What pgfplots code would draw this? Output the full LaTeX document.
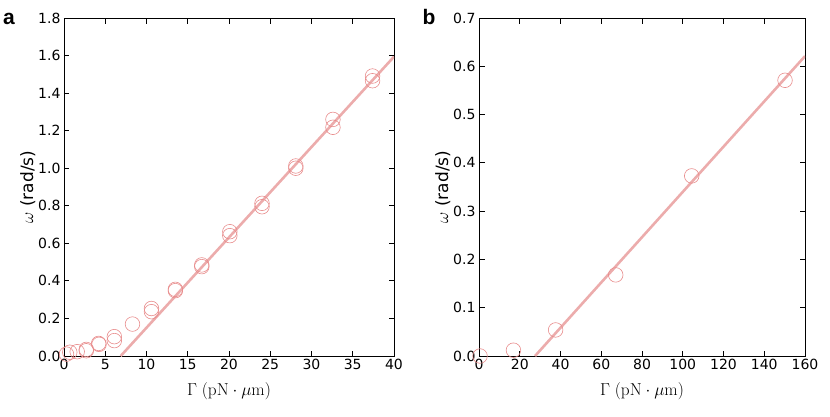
\documentclass[border=0pt]{standalone}
\usepackage{pgfplots}
\pgfplotsset{compat=1.18}
\usepackage[no-math]{fontspec}
\setmainfont{DejaVu Sans}
\newfontfamily\boldsans{Liberation Sans}
\definecolor{linec}{RGB}{236,172,172}
\definecolor{markc}{RGB}{232,140,140}
\pgfplotsset{
  myax/.style={
    scale only axis, height=338pt,
    axis line style={line width=0.9pt},
    tick style={line width=0.9pt, black},
    major tick length=5.5pt,
    tick align=inside,
    xtick pos=both, ytick pos=both,
    /pgf/number format/assume math mode=true,
    /pgf/number format/fixed,
    /pgf/number format/fixed zerofill,
    ticklabel style={font=\fontsize{14}{16}\selectfont},
    label style={font=\fontsize{17}{19}\selectfont},
    ymin=0,
    xlabel={$\Gamma\;(\mathrm{pN}\cdot\mu\mathrm{m})$},
    ylabel={$\omega$ (rad/s)},
    xlabel style={yshift=-6pt},
    ylabel style={yshift=-4pt},
    clip mode=individual,
  },
  mk/.style={only marks, mark=o, mark size=7.3pt, mark options={draw=markc, line width=0.6pt}},
  ln/.style={no marks, draw=linec, line width=2.6pt},
}
\begin{document}
\begin{tikzpicture}
\useasboundingbox (-64pt,-60pt) rectangle (766pt,356pt);
\begin{axis}[myax, width=330pt, at={(0pt,0pt)},
  xmin=0, xmax=40, ymax=1.8,
  xtick={0,5,...,40}, ytick={0,0.2,...,1.8},
  yticklabel style={/pgf/number format/precision=1},
  xticklabel={\pgfmathprintnumber[fixed,precision=0]{\tick}}]
\addplot[ln] coordinates {(6.87,0) (40,1.594)};
\addplot[mk] coordinates {
(0.3,0.01) (0.7,0.02) (1.6,0.023) (2.7,0.035) (2.7,0.028)
(4.2,0.067) (4.25,0.062) (6.1,0.103) (6.1,0.082) (8.3,0.17)
(10.6,0.236) (10.6,0.253) (13.5,0.355) (13.5,0.348)
(16.7,0.485) (16.7,0.476) (20.1,0.662) (20.1,0.641)
(24.0,0.813) (24.0,0.795) (28.1,1.012) (28.1,1.0)
(32.6,1.26) (32.6,1.218) (37.4,1.491) (37.4,1.466)};
\end{axis}
\node[font=\boldsans\bfseries\fontsize{21}{22}\selectfont] at (-55pt,337pt) {a};
\begin{axis}[myax, width=326pt, at={(415pt,0pt)},
  xmin=0, xmax=160, ymax=0.7,
  xtick={0,20,...,160}, ytick={0,0.1,...,0.7},
  yticklabel style={/pgf/number format/precision=1},
  xticklabel={\pgfmathprintnumber[fixed,precision=0]{\tick}}]
\addplot[ln] coordinates {(27.5,0) (160,0.621)};
\addplot[mk] coordinates {
(0.5,0.0) (16.9,0.012) (37.6,0.054) (67.1,0.168) (104.4,0.373) (150.2,0.571)};
\end{axis}
\node[font=\boldsans\bfseries\fontsize{21}{22}\selectfont] at (365pt,339pt) {b};
\end{tikzpicture}
\end{document}
